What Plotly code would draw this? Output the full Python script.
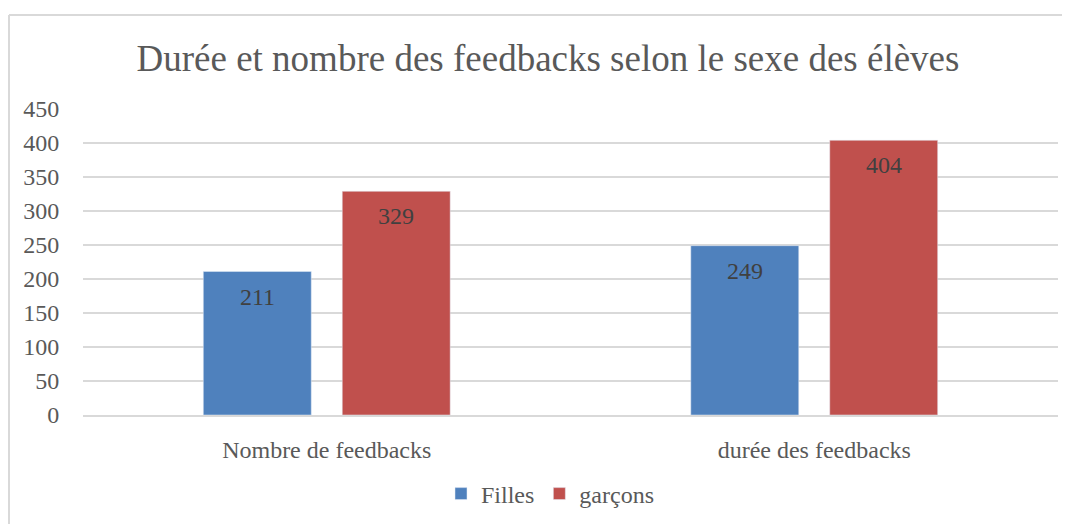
import plotly.graph_objects as go

categories = ["Nombre de feedbacks", "durée des feedbacks"]
filles = [211, 249]
garcons = [329, 404]
series_names = ["Filles", "garçons"]
y_ticks = [0, 50, 100, 150, 200, 250, 300, 350, 400, 450]
title = "Durée et nombre des feedbacks selon le sexe des élèves"

FONT = "Liberation Serif"
OFF = 8  # page body margin
W, H = 1070 - OFF, 524 - OFF
ML, MR, MT, MB = 83 - OFF, 12, 109 - OFF, 109
PW, PH = W - ML - MR, H - MT - MB
BAR_SHIFT = 69.5  # px from category centre to each bar centre


def px_x(px):
    return (px - OFF - ML) / PW


def px_y(py):
    return (MT + PH - (py - OFF)) / PH


fig = go.Figure()
fig.add_trace(go.Bar(x=categories, y=filles, name=series_names[0], marker_color="#4F81BD"))
fig.add_trace(go.Bar(x=categories, y=garcons, name=series_names[1], marker_color="#C0504D"))

annotations = []
for vals, shift in ((filles, -BAR_SHIFT), (garcons, BAR_SHIFT)):
    for cat, v in zip(categories, vals):
        annotations.append(dict(x=cat, y=v, xref="x", yref="y", text=str(v), showarrow=False,
                                xshift=shift, yshift=-25, yanchor="middle", xanchor="center",
                                font=dict(family=FONT, size=24, color="#404040")))

shapes = [
    dict(type="line", xref="paper", yref="paper", x0=px_x(9), x1=px_x(9), y0=px_y(15), y1=px_y(600),
         line=dict(color="#D9D9D9", width=2)),
    dict(type="line", xref="paper", yref="paper", x0=px_x(9), x1=px_x(1200), y0=px_y(15), y1=px_y(15),
         line=dict(color="#D9D9D9", width=2)),
]

fig.update_layout(
    width=W, height=H,
    margin=dict(l=ML, r=MR, t=MT, b=MB, autoexpand=False),
    paper_bgcolor="white", plot_bgcolor="white",
    title=dict(text=title, x=px_x(548), xref="paper", xanchor="center", y=1 - (58 - OFF) / H,
               yanchor="middle", font=dict(family=FONT, size=37, color="#595959")),
    barmode="group", bargap=0.43, bargroupgap=0.223,
    font=dict(family=FONT, color="#595959"),
    xaxis=dict(showgrid=False, showline=True, linecolor="#D9D9D9", linewidth=1.5,
               tickfont=dict(family=FONT, size=24, color="#595959"),
               ticks="outside", ticklen=12, tickcolor="rgba(0,0,0,0)"),
    yaxis=dict(range=[0, 450], tickvals=y_ticks, showgrid=True, gridcolor="#D9D9D9", gridwidth=1.5,
               zeroline=False, showline=False,
               tickfont=dict(family=FONT, size=24, color="#595959"),
               ticks="outside", ticklen=18, tickcolor="rgba(0,0,0,0)"),
    legend=dict(orientation="h", x=px_x(550), xanchor="center", y=px_y(494), yanchor="middle",
                font=dict(family=FONT, size=24, color="#595959"), itemwidth=30,
                bgcolor="rgba(0,0,0,0)"),
    shapes=shapes,
    annotations=annotations,
)

fig.write_html("out.html")
